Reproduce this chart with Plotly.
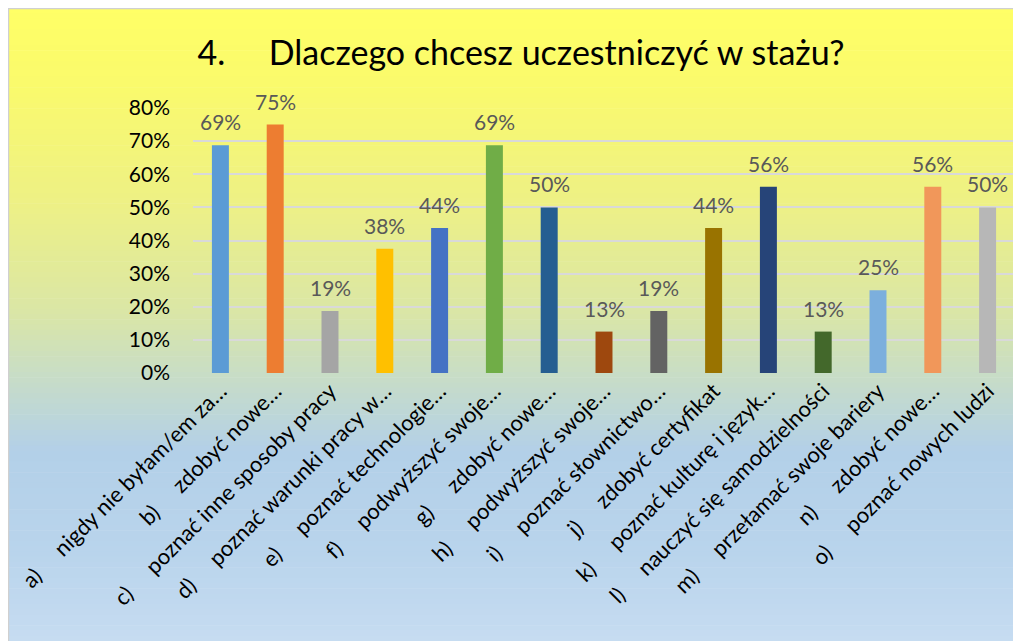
import plotly.graph_objects as go

# ---- data ----
letters = ["a)", "b)", "c)", "d)", "e)", "f)", "g)", "h)", "i)", "j)", "k)", "l)", "m)", "n)", "o)"]
answers = [
    "nigdy nie byłam/em za…",
    "zdobyć nowe…",
    "poznać inne sposoby pracy",
    "poznać warunki pracy w…",
    "poznać technologie…",
    "podwyższyć swoje…",
    "zdobyć nowe…",
    "podwyższyć swoje…",
    "poznać słownictwo…",
    "zdobyć certyfikat",
    "poznać kulturę i język…",
    "nauczyć się samodzielności",
    "przełamać swoje bariery",
    "zdobyć nowe…",
    "poznać nowych ludzi",
]
values = [0.6875, 0.75, 0.1875, 0.375, 0.4375, 0.6875, 0.5, 0.125, 0.1875, 0.4375, 0.5625, 0.125, 0.25, 0.5625, 0.5]
colors = ["#5B9BD5", "#ED7D31", "#A5A5A5", "#FFC000", "#4472C4", "#70AD47", "#255E91", "#9E480E",
          "#636363", "#997300", "#264478", "#43682B", "#7CAFDD", "#F1975A", "#B7B7B7"]
y_ticks = [0, 0.1, 0.2, 0.3, 0.4, 0.5, 0.6, 0.7, 0.8]
title_text = "4.\u00a0\u00a0\u00a0\u00a0\u00a0Dlaczego chcesz uczestniczyć w stażu?"

gap = "\u00a0" * 5
tick_labels = [f"{l}{gap}{a}" for l, a in zip(letters, answers)]
value_text = [f"{int(v * 100 + 0.5)}%" for v in values]

FONT = "Lato"
W, H = 1013, 633            # page body has an 8px margin
L, R, T, B = 185, 1007, 100, 365  # plot area in figure px

fig = go.Figure(go.Bar(
    x=tick_labels,
    y=values,
    marker=dict(color=colors, line=dict(width=0)),
    cliponaxis=False,
    hoverinfo="skip",
))

# data labels above the bars
annotations = [
    dict(x=xv, y=yv, xref="x", yref="y", text=t, showarrow=False,
         yanchor="bottom", xanchor="center", yshift=9,
         font=dict(family=FONT, size=21, color="#595959"))
    for xv, yv, t in zip(tick_labels, values, value_text)
]

# ---- background gradient (whole chart area) ----
def hex2rgb(h):
    h = h.lstrip("#")
    return tuple(int(h[i:i + 2], 16) for i in (0, 2, 4))

stops = [(0.0, "#FFFF66"), (0.12, "#FAFA6C"), (0.30, "#EEF184"), (0.48, "#DAE6A6"),
         (0.58, "#C8DDC6"), (0.70, "#B3D0E8"), (0.86, "#B9D4EC"), (1.0, "#C6DCF1")]

def color_at(t):
    for (t0, c0), (t1, c1) in zip(stops[:-1], stops[1:]):
        if t0 <= t <= t1:
            f = (t - t0) / (t1 - t0) if t1 > t0 else 0
            a, b = hex2rgb(c0), hex2rgb(c1)
            return "rgb(%d,%d,%d)" % tuple(round(a[i] + (b[i] - a[i]) * f) for i in range(3))
    return stops[-1][1]

def px2x(px):
    return (px - L) / (R - L)

def py2y(py):
    return (B - py) / (B - T)

n = 120
shapes = []
for i in range(n):
    y0 = H * i / n
    y1 = H * (i + 1) / n + 0.6
    shapes.append(dict(type="rect", xref="paper", yref="paper", layer="below",
                       x0=px2x(0), x1=px2x(W + 2), y0=py2y(y1), y1=py2y(y0),
                       fillcolor=color_at((i + 0.5) / n), line=dict(width=0)))
shapes.append(dict(type="rect", xref="paper", yref="paper", layer="below",
                   x0=px2x(0.6), x1=px2x(W + 5), y0=py2y(H + 5), y1=py2y(0.6),
                   fillcolor="rgba(0,0,0,0)", line=dict(width=1.2, color="#D0D0D0")))

fig.update_layout(
    width=W, height=H,
    margin=dict(l=L, r=W - R, t=T, b=H - B, pad=0),
    paper_bgcolor="white",
    plot_bgcolor="rgba(0,0,0,0)",
    shapes=shapes,
    annotations=annotations,
    bargap=0.69,
    showlegend=False,
    title=dict(text=title_text, x=513 / W, xref="container", xanchor="center",
               y=1 - 45 / H, yref="container", yanchor="middle",
               font=dict(family=FONT, size=34, color="#000000")),
    font=dict(family=FONT),
)
fig.update_yaxes(
    range=[0, 0.8], tickvals=y_ticks, tickformat=".0%",
    showgrid=True, gridcolor="#D9D9D9", gridwidth=1.6,
    zeroline=False, showline=False, ticks="",
    tickfont=dict(family=FONT, size=21, color="#000000"),
    ticklabelstandoff=22,
)
fig.update_xaxes(
    tickangle=-45, showgrid=False, showline=False, ticks="",
    tickfont=dict(family=FONT, size=22, color="#000000"),
)

fig.write_html("out.html")
